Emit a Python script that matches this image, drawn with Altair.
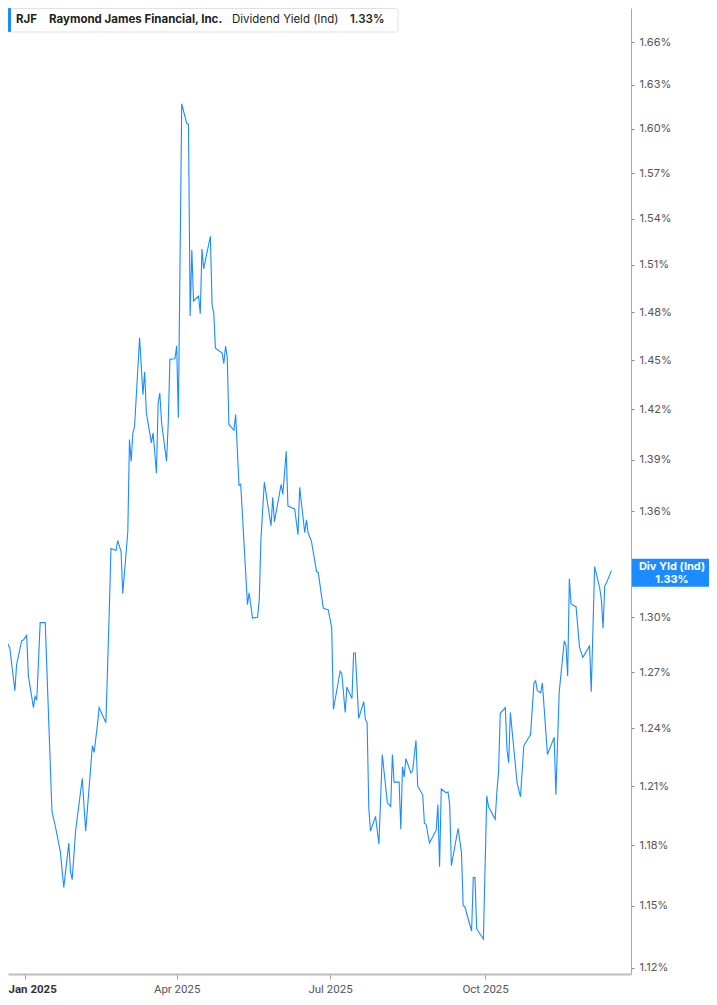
import altair as alt
import pandas as pd

dates = [
    "2024-12-17", "2024-12-19", "2024-12-20", "2024-12-23", "2024-12-26", "2024-12-27",
    "2024-12-30", "2024-12-31", "2025-01-02", "2025-01-03", "2025-01-06", "2025-01-07",
    "2025-01-08", "2025-01-10", "2025-01-13", "2025-01-17", "2025-01-19", "2025-01-22",
    "2025-01-24", "2025-01-27", "2025-01-28", "2025-01-29", "2025-01-31", "2025-02-04",
    "2025-02-06", "2025-02-10", "2025-02-11", "2025-02-13", "2025-02-14", "2025-02-18",
    "2025-02-20", "2025-02-21", "2025-02-24", "2025-02-25", "2025-02-27", "2025-02-28",
    "2025-03-03", "2025-03-04", "2025-03-05", "2025-03-06", "2025-03-07", "2025-03-10",
    "2025-03-12", "2025-03-13", "2025-03-14", "2025-03-17", "2025-03-18", "2025-03-20",
    "2025-03-21", "2025-03-22", "2025-03-23", "2025-03-26", "2025-03-27", "2025-03-28",
    "2025-03-31", "2025-04-01", "2025-04-02", "2025-04-04", "2025-04-07", "2025-04-08",
    "2025-04-09", "2025-04-10", "2025-04-11", "2025-04-14", "2025-04-15", "2025-04-16",
    "2025-04-17", "2025-04-21", "2025-04-22", "2025-04-23", "2025-04-24", "2025-04-28",
    "2025-04-29", "2025-04-30", "2025-05-01", "2025-05-02", "2025-05-05", "2025-05-06",
    "2025-05-08", "2025-05-09", "2025-05-13", "2025-05-14", "2025-05-16", "2025-05-19",
    "2025-05-20", "2025-05-21", "2025-05-23", "2025-05-27", "2025-05-28", "2025-05-29",
    "2025-06-02", "2025-06-03", "2025-06-05", "2025-06-06", "2025-06-10", "2025-06-12",
    "2025-06-13", "2025-06-16", "2025-06-17", "2025-06-18", "2025-06-20", "2025-06-23",
    "2025-06-24", "2025-06-27", "2025-06-30", "2025-07-02", "2025-07-03", "2025-07-07",
    "2025-07-08", "2025-07-10", "2025-07-11", "2025-07-14", "2025-07-15", "2025-07-16",
    "2025-07-18", "2025-07-21", "2025-07-22", "2025-07-23", "2025-07-24", "2025-07-25",
    "2025-07-28", "2025-07-30", "2025-08-01", "2025-08-04", "2025-08-06", "2025-08-07",
    "2025-08-08", "2025-08-11", "2025-08-12", "2025-08-13", "2025-08-14", "2025-08-15",
    "2025-08-18", "2025-08-19", "2025-08-21", "2025-08-22", "2025-08-25", "2025-08-26",
    "2025-08-27", "2025-08-29", "2025-09-02", "2025-09-03", "2025-09-04", "2025-09-05",
    "2025-09-08", "2025-09-09", "2025-09-10", "2025-09-11", "2025-09-15", "2025-09-17",
    "2025-09-18", "2025-09-19", "2025-09-23", "2025-09-24", "2025-09-25", "2025-09-26",
    "2025-09-30", "2025-10-02", "2025-10-03", "2025-10-07", "2025-10-08", "2025-10-09",
    "2025-10-10", "2025-10-13", "2025-10-14", "2025-10-15", "2025-10-16", "2025-10-20",
    "2025-10-22", "2025-10-24", "2025-10-28", "2025-10-30", "2025-10-31", "2025-11-01",
    "2025-11-03", "2025-11-04", "2025-11-07", "2025-11-11", "2025-11-12", "2025-11-14",
    "2025-11-17", "2025-11-18", "2025-11-19", "2025-11-20", "2025-11-21", "2025-11-24",
    "2025-11-26", "2025-11-28", "2025-12-02", "2025-12-03", "2025-12-05", "2025-12-08",
    "2025-12-09", "2025-12-10", "2025-12-11", "2025-12-12", "2025-12-15",
]

yields = [
    1.267, 1.3255, 1.289, 1.283, 1.260, 1.274,
    1.287, 1.2875, 1.290, 1.268, 1.251, 1.257,
    1.255, 1.297, 1.297, 1.197, 1.1895, 1.1766,
    1.1589, 1.181, 1.1667, 1.1628, 1.187, 1.214,
    1.187, 1.231, 1.2274, 1.242, 1.251, 1.243,
    1.303, 1.3385, 1.3374, 1.343, 1.3368, 1.313,
    1.348, 1.402, 1.389, 1.406, 1.4096, 1.464,
    1.429, 1.443, 1.418, 1.400, 1.406, 1.382,
    1.424, 1.430, 1.4125, 1.389, 1.412, 1.4506,
    1.451, 1.459, 1.415, 1.617, 1.6035, 1.603,
    1.4775, 1.5196, 1.487, 1.490, 1.479, 1.5202,
    1.5075, 1.5285, 1.4845, 1.4794, 1.4575, 1.4544,
    1.448, 1.4588, 1.452, 1.411, 1.4075, 1.417,
    1.375, 1.3756, 1.307, 1.3136, 1.2995, 1.300,
    1.3096, 1.3436, 1.3768, 1.3515, 1.368, 1.3538,
    1.3756, 1.3696, 1.395, 1.363, 1.3612, 1.3464,
    1.3738, 1.3475, 1.355, 1.3475, 1.3425, 1.3255,
    1.325, 1.305, 1.304, 1.294, 1.250, 1.2705,
    1.269, 1.2484, 1.262, 1.2558, 1.2804, 1.2804,
    1.2453, 1.2542, 1.2447, 1.2432, 1.199, 1.187,
    1.1945, 1.1805, 1.2263, 1.2015, 1.1995, 1.2263,
    1.212, 1.212, 1.188, 1.220, 1.2147, 1.2242,
    1.2168, 1.2179, 1.2337, 1.210, 1.2055, 1.191,
    1.1905, 1.181, 1.1875, 1.2005, 1.1692, 1.2085,
    1.2065, 1.207, 1.2005, 1.1697, 1.1885, 1.1761,
    1.150, 1.1495, 1.1377, 1.1638, 1.1638, 1.1387,
    1.1338, 1.205, 1.1995, 1.193, 1.207, 1.2174,
    1.248, 1.251, 1.229, 1.2221, 1.2484, 1.2116,
    1.2045, 1.231, 1.2368, 1.2642, 1.2653, 1.260,
    1.2589, 1.2642, 1.2263, 1.2353, 1.2055, 1.2595,
    1.287, 1.2847, 1.2679, 1.3215, 1.3074, 1.3057,
    1.2836, 1.278, 1.2842, 1.2595, 1.3283, 1.3164,
    1.3096, 1.294, 1.3175, 1.319, 1.326,
]

y_ticks = [1.12, 1.15, 1.18, 1.21, 1.24, 1.27, 1.30, 1.36, 1.39, 1.42,
           1.45, 1.48, 1.51, 1.54, 1.57, 1.60, 1.63, 1.66]
x_tick_months = [1, 4, 7, 10]

ticker = "RJF"
company = "Raymond James Financial, Inc."
metric = "Dividend Yield (Ind)"
last_text = "1.33%"
end_label = "Div Yld (Ind)"

BLUE = "#1A8CFF"
W, H = 623, 966
IS_JAN = "utcmonth(datum.value) == 0"

df = pd.DataFrame({"date": dates, "yld": yields})
last = df.tail(1)

x_enc = alt.X(
    "date:T",
    scale=alt.Scale(
        type="utc",
        domain=[
            alt.DateTime(year=2024, month=12, date=21, hours=22, utc=True),
            alt.DateTime(year=2025, month=12, date=26, hours=14, utc=True),
        ],
    ),
    axis=alt.Axis(
        orient="bottom",
        values=[alt.DateTime(year=2025, month=m, date=1, utc=True) for m in x_tick_months],
        labelExpr="utcFormat(datum.value, '%b %Y')",
        labelFont="Roboto",
        labelFontSize=11.5,
        labelFontWeight={"condition": {"test": IS_JAN, "value": "bold"}, "value": "normal"},
        labelColor={"condition": {"test": IS_JAN, "value": "#333333"}, "value": "#555555"},
        labelAlign={"condition": {"test": IS_JAN, "value": "left"}, "value": "center"},
        labelOffset={"condition": {"test": IS_JAN, "value": -17}, "value": 0},
        labelPadding=4,
        labelFlush=False,
        labelOverlap=False,
        labelBound=False,
        tickColor="#a0a0a0",
        tickSize=5,
        domainColor="#bdbdbd",
        domainWidth=2,
        grid=False,
        title=None,
    ),
)

y_enc = alt.Y(
    "yld:Q",
    scale=alt.Scale(type="log", domain=[1.1171, 1.6842], nice=False),
    axis=alt.Axis(
        orient="right",
        values=y_ticks,
        labelExpr="format(datum.value, '.2f') + '%'",
        labelFont="Inter",
        labelFontSize=11,
        labelColor="#555555",
        labelPadding=5,
        labelOverlap=False,
        tickColor="#888888",
        tickSize=3,
        domainColor="#a8a8a8",
        domainWidth=1,
        grid=False,
        title=None,
    ),
)

line = alt.Chart(df).mark_line(color=BLUE, strokeWidth=1.1, clip=True).encode(x=x_enc, y=y_enc)

one = alt.Data(values=[{}])

header_box = alt.Chart(one).mark_rect(
    fill="white", stroke="#e0e0e0", strokeWidth=1, cornerRadius=2
).encode(x=alt.value(0.5), x2=alt.value(390), y=alt.value(0.5), y2=alt.value(24))

header_bar = alt.Chart(one).mark_rect(fill=BLUE, cornerRadius=1).encode(
    x=alt.value(0), x2=alt.value(3), y=alt.value(0), y2=alt.value(24)
)


def header_text(txt, xpos, weight):
    return alt.Chart(one).mark_text(
        text=txt, align="left", baseline="middle", font="Inter",
        fontSize=11.5, fontWeight=weight, color="#222222",
    ).encode(x=alt.value(xpos), y=alt.value(12))


t1 = header_text(ticker, 8, "bold")
t2 = header_text(company, 41, "bold")
t3 = header_text(metric, 224, "normal")
t4 = header_text(last_text, 342, 600)

end_box = alt.Chart(last).mark_rect(fill=BLUE, yOffset=-12, y2Offset=16).encode(
    x=alt.value(W + 1), x2=alt.value(W + 78), y=y_enc, y2=alt.Y2("yld")
)
end_t1 = alt.Chart(last).mark_text(
    text=end_label, align="center", baseline="middle", font="Inter",
    fontSize=11, fontWeight="bold", color="white", dy=-4,
).encode(x=alt.value(W + 41), y=y_enc)
end_t2 = alt.Chart(last).mark_text(
    text=last_text, align="center", baseline="middle", font="Inter",
    fontSize=11, fontWeight="bold", color="white", dy=9,
).encode(x=alt.value(W + 41), y=y_enc)

chart = (
    alt.layer(line, header_box, header_bar, t1, t2, t3, t4, end_box, end_t1, end_t2)
    .properties(
        width=W,
        height=H,
        autosize=alt.AutoSizeParams(type="none"),
        padding={"left": 0, "top": 0, "right": 78, "bottom": 23},
        background="white",
    )
    .configure_view(stroke=None)
)

chart.save("out.html", embed_options={"renderer": "svg", "actions": False})
